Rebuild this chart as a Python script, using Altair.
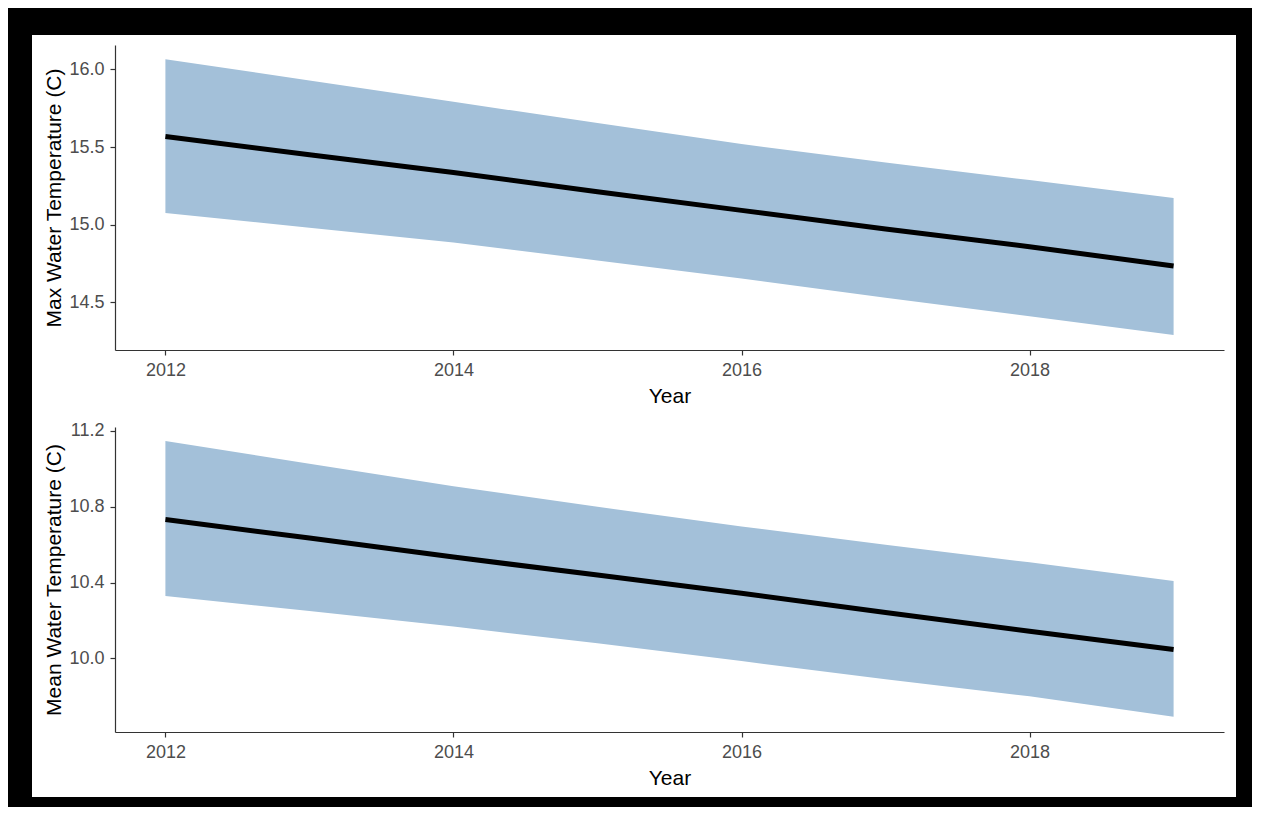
import altair as alt
import pandas as pd

# ---- data ----
years = [2012, 2013, 2014, 2015, 2016, 2017, 2018, 2019]

max_fit = [15.568, 15.450, 15.336, 15.212, 15.092, 14.972, 14.858, 14.734]
max_upper = [16.066, 15.928, 15.791, 15.655, 15.519, 15.400, 15.287, 15.172]
max_lower = [15.075, 14.980, 14.886, 14.770, 14.654, 14.530, 14.410, 14.290]

mean_fit = [10.733, 10.635, 10.535, 10.440, 10.344, 10.242, 10.144, 10.047]
mean_upper = [11.147, 11.027, 10.908, 10.800, 10.696, 10.600, 10.507, 10.408]
mean_lower = [10.330, 10.250, 10.168, 10.080, 9.986, 9.890, 9.800, 9.693]

x_ticks = [2012, 2014, 2016, 2018]
max_ticks = [14.5, 15.0, 15.5, 16.0]
mean_ticks = [10.0, 10.4, 10.8, 11.2]

df_max = pd.DataFrame({"Year": years, "fit": max_fit, "lo": max_lower, "hi": max_upper})
df_mean = pd.DataFrame({"Year": years, "fit": mean_fit, "lo": mean_lower, "hi": mean_upper})
df_one = pd.DataFrame({"k": [0]})

FONT = "Liberation Sans"
W, H = 1109, 305
BAND = "#A3C0D9"

x_scale = alt.Scale(domain=[2011.65, 2019.35], nice=False, zero=False)


def panel(df, title, ticks, domain, fmt, with_bg=False):
    base = alt.Chart(df)
    y_scale = alt.Scale(domain=domain, nice=False, zero=False)
    band = base.mark_area(color=BAND, opacity=1).encode(
        x=alt.X("Year:Q", scale=x_scale,
                axis=alt.Axis(title="Year", values=x_ticks, format="d",
                              labelPadding=6, titlePadding=6, zindex=1)),
        y=alt.Y("lo:Q", scale=y_scale,
                axis=alt.Axis(title=title, values=ticks, format=fmt,
                              labelPadding=6, titlePadding=4, zindex=1)),
        y2="hi:Q",
    )
    line = base.mark_line(color="black", strokeWidth=5).encode(
        x=alt.X("Year:Q", scale=x_scale),
        y=alt.Y("fit:Q", scale=y_scale),
    )
    layers = [band, line]
    if with_bg:
        bg = alt.Chart(df_one).mark_rect(color="white", clip=False).encode(
            x=alt.value(-83), x2=alt.value(1121),
            y=alt.value(-10), y2=alt.value(752),
        )
        layers = [bg] + layers
    return alt.layer(*layers).properties(width=W, height=H)


top = panel(df_max, "Max Water Temperature (C)", max_ticks, [14.193, 16.157], ".1f",
            with_bg=True)
bottom = panel(df_mean, "Mean Water Temperature (C)", mean_ticks, [9.612, 11.221], ".1f")

chart = alt.vconcat(top, bottom, spacing=77, bounds="flush").properties(
    background="black",
    padding={"left": 24, "top": 27, "right": 16, "bottom": 10},
).configure_view(stroke=None).configure_axis(
    grid=False,
    domainColor="#333333",
    domainWidth=1.2,
    tickColor="#333333",
    tickWidth=1.2,
    tickSize=5,
    labelFont=FONT,
    labelFontSize=18,
    labelColor="#4D4D4D",
    titleFont=FONT,
    titleFontSize=21,
    titleFontWeight="normal",
    titleColor="black",
)

chart.save("out.html", embed_options={"renderer": "svg", "actions": False})
